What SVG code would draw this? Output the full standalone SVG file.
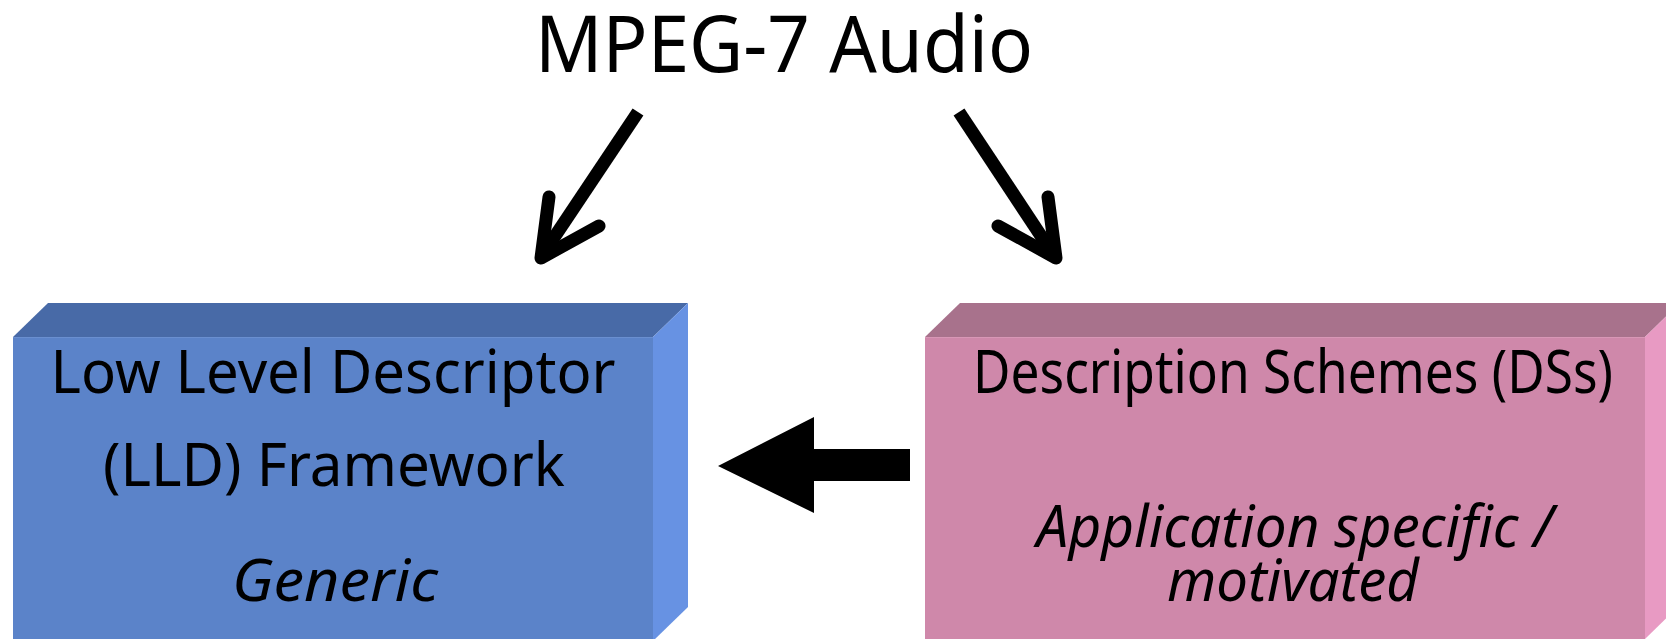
<svg xmlns="http://www.w3.org/2000/svg" width="1666" height="639" viewBox="0 0 1666 639">
<style>
text{font-family:"Noto Sans","Open Sans","DejaVu Sans",sans-serif;fill:#000;text-anchor:middle}
.t{font-size:78px}
.b{font-size:60px}
.i{font-size:59px;font-style:italic}
.arm{fill:none;stroke:#000;stroke-width:13;stroke-linecap:round;stroke-linejoin:round}
.shaft{fill:none;stroke:#000;stroke-width:13;stroke-linecap:butt}
</style>
<rect width="1666" height="639" fill="#fff"/>
<g id="title">
<text class="t" x="784" y="72" textLength="498" lengthAdjust="spacingAndGlyphs">MPEG-7 Audio</text>
</g>
<g id="lld">
<polygon points="13,337 48,303 688,303 653,337" fill="#486AA7"/>
<polygon points="653,337 688,303 688,607 653,641" fill="#6792E3"/>
<rect x="13" y="337" width="640" height="310" fill="#5B83C9"/>
<line x1="13" y1="337.5" x2="653" y2="337.5" stroke="#6A8FD0" stroke-width="1"/>
<text class="b" x="333" y="393" textLength="565" lengthAdjust="spacingAndGlyphs">Low Level Descriptor</text>
<text class="b" x="334" y="486" textLength="462" lengthAdjust="spacingAndGlyphs">(LLD) Framework</text>
<text class="i" x="335" y="601" textLength="206" lengthAdjust="spacingAndGlyphs">Generic</text>
</g>
<g id="ds">
<polygon points="925,337 960,303 1680,303 1645,337" fill="#A8728C"/>
<polygon points="1645,337 1680,303 1680,605 1645,639" fill="#E89AC3"/>
<rect x="925" y="337" width="720" height="310" fill="#CF88AA"/>
<line x1="925" y1="337.5" x2="1645" y2="337.5" stroke="#D897B6" stroke-width="1"/>
<text class="b" x="1293" y="393" textLength="640" lengthAdjust="spacingAndGlyphs">Description Schemes (DSs)</text>
<text class="i" x="1295" y="547" textLength="517" lengthAdjust="spacingAndGlyphs">Application specific /</text>
<text class="i" x="1293" y="601" textLength="252" lengthAdjust="spacingAndGlyphs">motivated</text>
</g>
<g id="connectors">
<line class="shaft" x1="638" y1="112" x2="543" y2="254"/>
<polyline class="arm" points="549,197 541,258 599,226"/>
<line class="shaft" x1="959" y1="112" x2="1053" y2="254"/>
<polyline class="arm" points="1048,197 1056,258 998,226"/>
<polygon points="718,466 814,417 814,449 910,449 910,481 814,481 814,513" fill="#000"/>
</g>
</svg>
